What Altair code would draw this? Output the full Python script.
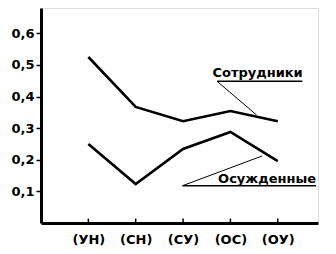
import altair as alt
import pandas as pd

categories = ["(УН)", "(СН)", "(СУ)", "(ОС)", "(ОУ)"]
staff = [0.525, 0.367, 0.322, 0.354, 0.322]
convicts = [0.25, 0.123, 0.234, 0.288, 0.196]
y_ticks = [0.1, 0.2, 0.3, 0.4, 0.5, 0.6]

# annotation labels (data coordinates)
label_names = ["Сотрудники", "Осужденные"]
label_x = [2.62, 2.74]
label_y = [0.462, 0.127]
# underline and leader segments (data coordinates)
seg_x1 = [2.72, 2.72, 1.99, 1.99]
seg_x2 = [4.52, 3.55, 4.81, 3.67]
seg_y1 = [0.448, 0.448, 0.118, 0.118]
seg_y2 = [0.448, 0.342, 0.118, 0.212]
seg_w = [1.5, 1.0, 1.5, 1.0]

rows = []
for i, c in enumerate(categories):
    rows.append({"idx": i, "series": "Сотрудники", "value": staff[i]})
    rows.append({"idx": i, "series": "Осужденные", "value": convicts[i]})
df = pd.DataFrame(rows)

xs = alt.Scale(domain=[-1.0, 4.85], nice=False, zero=False)
ys = alt.Scale(domain=[0, 0.68], nice=False)

label_expr = "[" + ",".join("'" + c + "'" for c in categories) + "][datum.value]"

lines = alt.Chart(df).mark_line(color="black", strokeWidth=2.6).encode(
    x=alt.X("idx:Q", scale=xs,
            axis=alt.Axis(values=list(range(len(categories))), labelExpr=label_expr,
                          title=None, grid=False, ticks=False, domainWidth=3,
                          domainColor="black", labelFont="DejaVu Sans", labelFontWeight="bold",
                          labelFontSize=13, labelColor="black", labelPadding=10)),
    y=alt.Y("value:Q", scale=ys,
            axis=alt.Axis(values=y_ticks, labelExpr="replace(format(datum.value, '.1f'), '.', ',')",
                          title=None, grid=False, tickSize=5, tickWidth=1.5, tickColor="black",
                          domainWidth=3, domainColor="black", labelFont="DejaVu Sans",
                          labelFontWeight="bold", labelFontSize=13, labelColor="black",
                          labelPadding=2)),
    detail="series:N",
)

xt = pd.DataFrame({"idx": list(range(len(categories))), "y0": [0.0] * 5, "y1": [0.014] * 5})
xticks = alt.Chart(xt).mark_rule(color="black", strokeWidth=1.5).encode(
    x=alt.X("idx:Q", scale=xs), y=alt.Y("y0:Q", scale=ys), y2="y1:Q")

seg = pd.DataFrame({"x1": seg_x1, "x2": seg_x2, "y1": seg_y1, "y2": seg_y2, "w": seg_w})
segs = alt.Chart(seg).mark_rule(color="black").encode(
    x=alt.X("x1:Q", scale=xs), x2="x2:Q", y=alt.Y("y1:Q", scale=ys), y2="y2:Q",
    strokeWidth=alt.StrokeWidth("w:Q", scale=None))

lab = pd.DataFrame({"name": label_names, "x": label_x, "y": label_y})
texts = alt.Chart(lab).mark_text(align="left", baseline="alphabetic", font="DejaVu Sans",
                                 fontWeight="bold", fontSize=13, color="black").encode(
    x=alt.X("x:Q", scale=xs), y=alt.Y("y:Q", scale=ys), text="name:N")

chart = alt.layer(lines, xticks, segs, texts).properties(
    width=277, height=215,
    autosize=alt.AutoSizeParams(type="none"),
    padding={"left": 41, "top": 8, "right": 18, "bottom": 31},
).configure_view(stroke=None).configure(background="white")

chart.save("out.html", embed_options={"renderer": "svg", "actions": False})
